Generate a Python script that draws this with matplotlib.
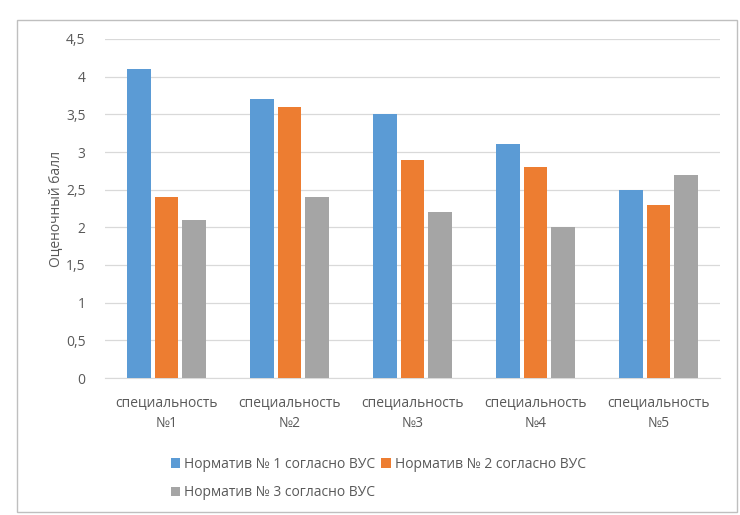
import matplotlib
matplotlib.use("Agg")
import matplotlib.pyplot as plt
import numpy as np
from matplotlib.patches import Rectangle

categories = ["специальность\n№1", "специальность\n№2", "специальность\n№3", "специальность\n№4", "специальность\n№5"]
series_names = ["Норматив № 1 согласно ВУС", "Норматив № 2 согласно ВУС", "Норматив № 3 согласно ВУС"]
norm1 = [4.1, 3.7, 3.5, 3.1, 2.5]
norm2 = [2.4, 3.6, 2.9, 2.8, 2.3]
norm3 = [2.1, 2.4, 2.2, 2.0, 2.7]
yticks = [0, 0.5, 1, 1.5, 2, 2.5, 3, 3.5, 4, 4.5]
ytick_labels = ["0", "0,5", "1", "1,5", "2", "2,5", "3", "3,5", "4", "4,5"]
colors = ["#5B9BD5", "#ED7D31", "#A5A5A5"]

plt.rcParams['font.family'] = ['Open Sans', 'DejaVu Sans']
txt = "#595959"

fig = plt.figure(figsize=(7.4, 5.15), dpi=100)
fig.patches.append(Rectangle((17/740, 1-512/515), 720/740, 492/515, transform=fig.transFigure,
                             fill=False, edgecolor="#BFBFBF", linewidth=1.0))
ax = fig.add_axes([105/740, 1-378/515, 615/740, 339/515])

x = np.arange(len(categories))
w = 0.19
step = 0.225
handles = []
for i, (vals, name) in enumerate(zip([norm1, norm2, norm3], series_names)):
    h = ax.bar(x + (i - 1) * step, vals, width=w, color=colors[i], label=name, zorder=3)
    handles.append(h)

ax.set_xlim(-0.5, len(categories) - 0.5)
ax.set_ylim(0, 4.5)
ax.set_yticks(yticks)
ax.set_yticklabels(ytick_labels)
ax.set_xticks(x)
ax.set_xticklabels(categories, linespacing=1.6)
ax.grid(axis='y', color="#D9D9D9", linewidth=0.9, zorder=0)
for s in ["top", "right", "left"]:
    ax.spines[s].set_visible(False)
ax.spines["bottom"].set_color("#D9D9D9")
ax.tick_params(axis='y', length=0, labelsize=10, colors=txt, pad=14)
ax.tick_params(axis='x', length=0, labelsize=10, colors=txt, pad=12)
ax.set_ylabel("Оценочный балл", fontsize=10, color=txt, labelpad=2)

order = [0, 2, 1]
leg = fig.legend([handles[k] for k in order], [series_names[k] for k in order],
                 loc="upper left", bbox_to_anchor=(158/740, 1-444/515), ncol=2, frameon=False,
                 fontsize=10, handlelength=0.7, handleheight=0.7, handletextpad=0.3,
                 columnspacing=0.4, labelspacing=1.0)
for t in leg.get_texts():
    t.set_color(txt)

fig.savefig("out.png", dpi=100)
